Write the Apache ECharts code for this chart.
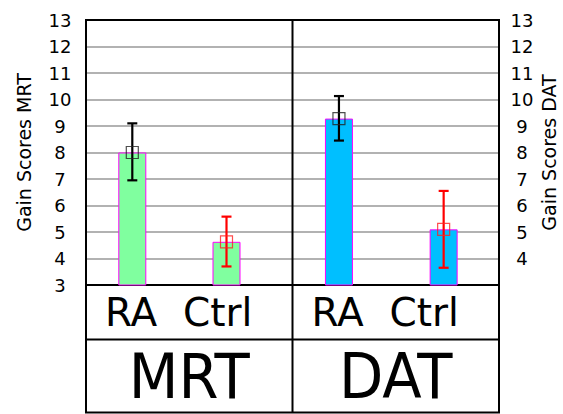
<!DOCTYPE html>
<html>
<head>
<meta charset="utf-8">
<script src="https://cdn.jsdelivr.net/npm/echarts@6/dist/echarts.min.js"></script>
<style>html,body{margin:0;padding:0;background:#fff}#c{width:563px;height:414px}</style>
</head>
<body>
<div id="c"></div>
<script>
// ---- data ----
const groups = ['MRT', 'DAT'];
const conditions = ['RA', 'Ctrl'];
const meanMRT = [8.0, 4.63];
const meanDAT = [9.28, 5.1];
const lowMRT = [6.95, 3.7];
const highMRT = [9.1, 5.58];
const lowDAT = [8.45, 3.65];
const highDAT = [10.13, 6.55];
const yTicks = [3, 4, 5, 6, 7, 8, 9, 10, 11, 12, 13];
const yNames = ['Gain Scores MRT', 'Gain Scores DAT'];

// ---- layout (pixels) ----
const W = 563, H = 414;
const L = 86, R = 499, M = 292.5, T = 20, B = 285, ROW = 339.5, BOT = 412.5;
const FONT = 'DejaVu Sans';
const errColors = ['#000000', '#ff0000'];
const markColors = ['#222222', '#ff2020'];
const barColors = ['#80ff9f', '#00bfff'];
const condOffsets = [19, 97];

const chart = echarts.init(document.getElementById('c'), null, {renderer: 'svg'});

const yBase = {type: 'value', min: yTicks[0], max: yTicks[yTicks.length - 1], interval: 1};
const tickLabel = {fontFamily: FONT, fontSize: 18, color: '#000', formatter: '{a|{value}}',
  rich: {a: {width: 26, align: 'center', fontFamily: FONT, fontSize: 18, color: '#000'}}};

// grids: 0 = frame, 1 = MRT bars, 2 = DAT bars
const gBase = {top: T, bottom: H - B, containLabel: false, outerBoundsMode: 'none'};
const grids = [
  Object.assign({left: L, right: W - R}, gBase),
  Object.assign({left: 85.2, right: W - 273.6}, gBase),
  Object.assign({left: 286.6, right: W - 496}, gBase)
];

const xAxes = [
  {type: 'category', gridIndex: 0, data: groups, axisLabel: {show: false}, axisTick: {show: false},
   axisLine: {lineStyle: {color: '#000', width: 2}}},
  {type: 'category', gridIndex: 1, data: conditions, show: false},
  {type: 'category', gridIndex: 2, data: conditions, show: false}
];

const yAxes = [
  Object.assign({}, yBase, {gridIndex: 0, position: 'left', name: yNames[0], nameLocation: 'middle',
    nameRotate: 90, nameGap: 53, nameTextStyle: {fontFamily: FONT, fontSize: 19, color: '#000'},
    axisLine: {show: true, lineStyle: {color: '#000', width: 2}}, axisTick: {show: false},
    axisLabel: Object.assign({}, tickLabel, {margin: 13}),
    splitLine: {show: true, lineStyle: {color: '#999', width: 1.5}}}),
  Object.assign({}, yBase, {gridIndex: 0, position: 'right', name: yNames[1], nameLocation: 'middle',
    nameRotate: 90, nameGap: 40, nameMoveOverlap: false, nameTextStyle: {fontFamily: FONT, fontSize: 19, color: '#000'},
    axisLine: {show: true, lineStyle: {color: '#000', width: 2}}, axisTick: {show: false},
    axisLabel: Object.assign({}, tickLabel, {margin: 10, showMinLabel: false}),
    splitLine: {show: false}}),
  Object.assign({}, yBase, {gridIndex: 1, show: false, splitLine: {show: false}}),
  Object.assign({}, yBase, {gridIndex: 2, show: false, splitLine: {show: false}})
];

function errSeries(gi, low, high) {
  return {
    type: 'custom', xAxisIndex: gi, yAxisIndex: gi + 1, z: 5,
    data: conditions.map((c, i) => [i, low[i], high[i]]),
    renderItem: function (params, api) {
      const x = api.value(0);
      const p1 = api.coord([x, api.value(1)]);
      const p2 = api.coord([x, api.value(2)]);
      const col = errColors[params.dataIndex];
      const hw = 5;
      const st = {stroke: col, lineWidth: 2.2};
      return {type: 'group', children: [
        {type: 'line', shape: {x1: p1[0], y1: p1[1], x2: p2[0], y2: p2[1]}, style: st},
        {type: 'line', shape: {x1: p1[0] - hw, y1: p1[1], x2: p1[0] + hw, y2: p1[1]}, style: st},
        {type: 'line', shape: {x1: p2[0] - hw, y1: p2[1], x2: p2[0] + hw, y2: p2[1]}, style: st}
      ]};
    }
  };
}

function barSeries(gi, means) {
  return {
    type: 'bar', xAxisIndex: gi, yAxisIndex: gi + 1, barWidth: 28, z: 3,
    data: means,
    itemStyle: {color: barColors[gi - 1], borderColor: '#ff00ff', borderWidth: 1}
  };
}

function markSeries(gi, means) {
  return {
    type: 'scatter', xAxisIndex: gi, yAxisIndex: gi + 1, z: 6,
    symbol: 'rect', symbolSize: 12,
    data: means.map((v, i) => ({value: [i, v], itemStyle: {color: 'rgba(0,0,0,0)', borderColor: markColors[i], borderWidth: 1.2}}))
  };
}

const series = [
  barSeries(1, meanMRT), errSeries(1, lowMRT, highMRT), markSeries(1, meanMRT),
  barSeries(2, meanDAT), errSeries(2, lowDAT, highDAT), markSeries(2, meanDAT)
];

// table below plot
const lineSt = {stroke: '#000', lineWidth: 2};
const graphic = [
  {type: 'line', shape: {x1: M, y1: T, x2: M, y2: BOT}, style: lineSt, z: 10},
  {type: 'line', shape: {x1: L, y1: B, x2: L, y2: BOT}, style: lineSt, z: 10},
  {type: 'line', shape: {x1: R, y1: B, x2: R, y2: BOT}, style: lineSt, z: 10},
  {type: 'line', shape: {x1: L, y1: ROW, x2: R, y2: ROW}, style: lineSt, z: 10},
  {type: 'line', shape: {x1: L - 1, y1: BOT, x2: R + 1, y2: BOT}, style: lineSt, z: 10},
  {type: 'line', shape: {x1: L - 1, y1: T, x2: R + 1, y2: T}, style: lineSt, z: 10}
];
const cells = [[L, M], [M, R]];
groups.forEach((g, i) => {
  const [a, b] = cells[i];
  conditions.forEach((c, j) => {
    graphic.push({type: 'text', x: a + condOffsets[j], y: (B + ROW) / 2, z: 10,
      style: {text: c, font: '39px "' + FONT + '"', fill: '#000', textAlign: 'left', textVerticalAlign: 'middle'}});
  });
  graphic.push({type: 'text', x: (a + b) / 2, y: 376, z: 10, scaleX: 0.93,
    style: {text: g, font: '62px "' + FONT + '"', fill: '#000', textAlign: 'center', textVerticalAlign: 'middle'}});
});

chart.setOption({
  animation: false,
  backgroundColor: '#fff',
  grid: grids,
  xAxis: xAxes,
  yAxis: yAxes,
  series: series,
  graphic: graphic
});
</script>
</body>
</html>
